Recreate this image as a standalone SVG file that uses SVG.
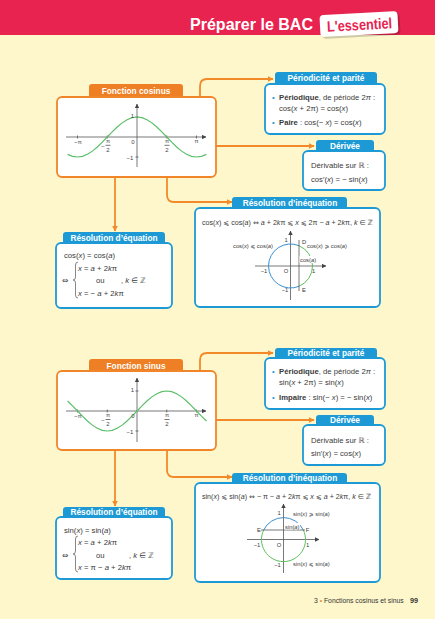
<svg xmlns="http://www.w3.org/2000/svg" width="435" height="619" viewBox="0 0 435 619">
<defs>
<style>
.f{font-family:"Liberation Sans","DejaVu Sans",sans-serif}
.tab{font-family:"Liberation Sans","DejaVu Sans",sans-serif;font-weight:bold;font-size:8.3px;fill:#fff;text-anchor:middle}
.bd{font-family:"Liberation Sans","DejaVu Sans",sans-serif;font-size:7.7px;fill:#3a3a3a}
.ineq{font-size:7.1px}
.dv{font-family:"DejaVu Sans",sans-serif}
.sm{font-family:"Liberation Sans","DejaVu Sans",sans-serif;font-size:5.8px;fill:#3a3a3a}
.ax{font-family:"Liberation Sans","DejaVu Sans",sans-serif;font-size:6px;fill:#444;text-anchor:middle}
.i{font-style:italic}
.b{font-weight:bold}
.ob{fill:#fff;stroke:#f0852a;stroke-width:1.8}
.bb{fill:#fff;stroke:#1d9ad6;stroke-width:1.8}
.ot{fill:#ef7f24}
.bt{fill:#1d9ad6}
.con{fill:none;stroke:#f28a2a;stroke-width:1.8}
.axis{fill:none;stroke:#555;stroke-width:0.8}
.crv{fill:none;stroke:#5cbf6a;stroke-width:1.2}
.cb{fill:none;stroke:#3a8fd0;stroke-width:1}
.cg{fill:none;stroke:#5cbf5a;stroke-width:1}
.br{fill:none;stroke:#555;stroke-width:0.7}
</style>
<marker id="ar" viewBox="0 0 6 6" refX="5.5" refY="3" markerWidth="6" markerHeight="6" markerUnits="userSpaceOnUse" orient="auto"><path d="M0,0 L6,3 L0,6 z" fill="#f28a2a"/></marker>
<marker id="ax" viewBox="0 0 6 6" refX="5.5" refY="3" markerWidth="4.5" markerHeight="4.5" markerUnits="userSpaceOnUse" orient="auto"><path d="M0,0 L6,3 L0,6 z" fill="#444"/></marker>
</defs>

<rect width="435" height="619" fill="#fdf7cb"/>
<rect width="435" height="35" fill="#e8234f"/>
<text class="f" x="313" y="30" font-size="16" font-weight="bold" fill="#fff" text-anchor="end" textLength="123" lengthAdjust="spacingAndGlyphs">Préparer le BAC</text>
<g transform="rotate(-3 360 25)">
<rect x="322" y="15" width="78" height="22" rx="4" fill="#000" opacity="0.18"/>
<rect x="320" y="13" width="78" height="22" rx="4" fill="#fff"/>
<text class="f" x="327" y="30" font-size="15" font-weight="bold" fill="#e8234f" textLength="65" lengthAdjust="spacingAndGlyphs">L'essentiel</text>
</g>

<g id="connectors">
<path class="con" d="M200,97 V86 Q200,79 207,79 H273" marker-end="url(#ar)"/>
<path class="con" d="M216,146 H314" marker-end="url(#ar)"/>
<path class="con" d="M167,177 V195 Q167,202 174,202 H232" marker-end="url(#ar)"/>
<path class="con" d="M115,177 V231" marker-end="url(#ar)"/>
<path class="con" d="M200,372 V360 Q200,353 207,353 H273" marker-end="url(#ar)"/>
<path class="con" d="M216,420 H314" marker-end="url(#ar)"/>
<path class="con" d="M167,450 V470 Q167,477 174,477 H232" marker-end="url(#ar)"/>
<path class="con" d="M115,450 V506" marker-end="url(#ar)"/>
</g>

<!-- Fonction cosinus -->
<g id="fonction-cosinus">
<path class="ot" d="M89,98 V87 Q89,84 92,84 H180 Q183,84 183,87 V98 z"/>
<rect class="ob" x="57" y="97" width="159" height="80" rx="5"/>
<text class="tab" x="136" y="94">Fonction cosinus</text>
<path class="axis" d="M66,137 H206" marker-end="url(#ax)"/>
<path class="axis" d="M137,167 V104" marker-end="url(#ax)"/>
<path class="axis" d="M77.5,135.5 V138.5 M107.25,135.5 V138.5 M166.75,135.5 V138.5 M196.5,135.5 V138.5 M135.5,117 H138.5 M135.5,157 H138.5"/>
<polyline class="crv" points="67.59,154.32 72.55,156.32 77.5,157 82.46,156.32 87.42,154.32 92.38,151.14 97.34,147 102.29,142.18 107.25,137 112.21,131.82 117.17,127 122.13,122.86 127.08,119.68 132.04,117.68 137,117 141.96,117.68 146.92,119.68 151.87,122.86 156.83,127 161.79,131.82 166.75,137 171.71,142.18 176.66,147 181.62,151.14 186.58,154.32 191.54,156.32 196.5,157 201.45,156.32 206.41,154.32"/>
<text class="ax" x="78" y="144">−π</text>
<text class="ax" x="103" y="147.5">−</text>
<text class="ax" x="108" y="143">π</text>
<path class="axis" d="M105.5,145.3 H110.5"/>
<text class="ax" x="108" y="151.5">2</text>
<text class="ax" x="133" y="143.5">0</text>
<text class="ax" x="167" y="143">π</text>
<path class="axis" d="M164.5,145.3 H169.5"/>
<text class="ax" x="167" y="151.5">2</text>
<text class="ax" x="196.5" y="143">π</text>
<text class="ax" x="132.5" y="117.5">1</text>
<text class="ax" x="130" y="159.5">−1</text>
</g>

<g id="periodicite-cos">
<path class="bt" d="M275,85 V75 Q275,72 278,72 H374 Q377,72 377,75 V85 z"/>
<rect class="bb" x="265" y="84" width="120" height="50" rx="5"/>
<text class="tab" x="326" y="81">Périodicité et parité</text>
<text class="bd" x="272" y="99.5" style="fill:#1d9ad6">•</text>
<text class="bd" x="279" y="99.5"><tspan class="b">Périodique</tspan>, de période 2<tspan class="i">π</tspan> :</text>
<text class="bd" x="279" y="110.5">cos(<tspan class="i">x</tspan> + 2π) = cos(<tspan class="i">x</tspan>)</text>
<text class="bd" x="272" y="124.5" style="fill:#1d9ad6">•</text>
<text class="bd" x="279" y="124.5"><tspan class="b">Paire</tspan> : cos(− <tspan class="i">x</tspan>) = cos(<tspan class="i">x</tspan>)</text>
</g>

<g id="derivee-cos">
<path class="bt" d="M316,152 V143 Q316,140 319,140 H371 Q374,140 374,143 V152 z"/>
<rect class="bb" x="303" y="151" width="82" height="39" rx="5"/>
<text class="tab" x="345" y="148.5">Dérivée</text>
<text class="bd" x="311" y="167.5">Dérivable sur ℝ :</text>
<text class="bd" x="311" y="181.5">cos′(<tspan class="i">x</tspan>) = − sin(<tspan class="i">x</tspan>)</text>
</g>

<g id="inequation-cos">
<path class="bt" d="M232,209 V200 Q232,197 235,197 H344 Q347,197 347,200 V209 z"/>
<rect class="bb" x="195" y="208" width="185" height="99" rx="5"/>
<text class="tab" x="290" y="205.5">Résolution d’inéquation</text>
<text class="bd ineq" x="202" y="224.5">cos(<tspan class="i">x</tspan>) ⩽ cos(<tspan class="i">a</tspan>) <tspan class="dv">⇔</tspan> <tspan class="i">a</tspan> + 2<tspan class="i">k</tspan>π ⩽ <tspan class="i">x</tspan> ⩽ 2π − <tspan class="i">a</tspan> + 2<tspan class="i">k</tspan>π, <tspan class="i">k</tspan> ∈ ℤ</text>
<path class="axis" d="M255,266 H326" marker-end="url(#ax)"/>
<path class="axis" d="M290.5,300 V231" marker-end="url(#ax)"/>
<path class="cg" d="M299,245.7 A22,22 0 0 1 299,286.3"/>
<path class="cb" d="M299,286.3 A22,22 0 1 1 299,245.7"/>
<path d="M299,240 V291" stroke="#555" stroke-width="0.8"/>
<rect x="299.5" y="256" width="16" height="7" fill="#fff"/>
<text class="sm" x="300" y="262">cos(<tspan class="i">a</tspan>)</text>
<text class="sm" x="286" y="241.5" text-anchor="middle">1</text>
<text class="sm" x="302" y="244">D</text>
<text class="sm" x="273" y="247.5" text-anchor="end">cos(<tspan class="i">x</tspan>) ⩽ cos(<tspan class="i">a</tspan>)</text>
<text class="sm" x="307" y="247.5">cos(<tspan class="i">x</tspan>) ⩾ cos(<tspan class="i">a</tspan>)</text>
<text class="sm" x="264" y="272.5" text-anchor="middle">−1</text>
<text class="sm" x="286" y="272.5" text-anchor="middle">O</text>
<text class="sm" x="313.5" y="272.5" text-anchor="middle">1</text>
<text class="sm" x="285" y="291.5" text-anchor="middle">−1</text>
<text class="sm" x="302" y="291.5">E</text>
</g>

<g id="equation-cos">
<path class="bt" d="M63,244 V235 Q63,232 66,232 H162 Q165,232 165,235 V244 z"/>
<rect class="bb" x="56" y="243" width="116" height="65" rx="5"/>
<text class="tab" x="114" y="240.8">Résolution d’équation</text>
<text class="bd" x="64" y="257.5">cos(<tspan class="i">x</tspan>) = cos(<tspan class="i">a</tspan>)</text>
<text class="bd" x="78" y="270.5"><tspan class="i">x</tspan> = <tspan class="i">a</tspan> + 2<tspan class="i">k</tspan>π</text>
<text class="bd dv" x="62" y="282.5">⇔</text>
<text class="bd" x="96" y="282.5">ou</text>
<text class="bd" x="121" y="282.5">, <tspan class="i">k</tspan> ∈ ℤ</text>
<text class="bd" x="78" y="295.5"><tspan class="i">x</tspan> = − <tspan class="i">a</tspan> + 2<tspan class="i">k</tspan>π</text>
<path class="br" d="M78,262 Q75.5,262 75.5,265 V277 Q75.5,280 73,280 Q75.5,280 75.5,283 V295 Q75.5,298 78,298"/>
</g>

<!-- Fonction sinus -->
<g id="fonction-sinus">
<path class="ot" d="M89,372 V362 Q89,359 92,359 H180 Q183,359 183,362 V372 z"/>
<rect class="ob" x="57" y="371" width="159" height="79" rx="5"/>
<text class="tab" x="136" y="368.5">Fonction sinus</text>
<path class="axis" d="M66,411 H206" marker-end="url(#ax)"/>
<path class="axis" d="M137,442 V378" marker-end="url(#ax)"/>
<path class="axis" d="M77.5,409.5 V412.5 M107.25,409.5 V412.5 M166.75,409.5 V412.5 M196.5,409.5 V412.5 M135.5,391 H138.5 M135.5,431 H138.5"/>
<polyline class="crv" points="67.59,401 72.55,405.82 77.5,411 82.46,416.18 87.42,421 92.38,425.14 97.34,428.32 102.29,430.32 107.25,431 112.21,430.32 117.17,428.32 122.13,425.14 127.08,421 132.04,416.18 137,411 141.96,405.82 146.92,401 151.87,396.86 156.83,393.68 161.79,391.68 166.75,391 171.71,391.68 176.66,393.68 181.62,396.86 186.58,401 191.54,405.82 196.5,411 201.45,416.18 206.41,421"/>
<text class="ax" x="78" y="418">−π</text>
<text class="ax" x="103" y="421.5">−</text>
<text class="ax" x="108" y="417">π</text>
<path class="axis" d="M105.5,419.5 H110.5"/>
<text class="ax" x="108" y="426">2</text>
<text class="ax" x="133" y="417.5">0</text>
<text class="ax" x="167" y="417">π</text>
<path class="axis" d="M164.5,419.5 H169.5"/>
<text class="ax" x="167" y="426">2</text>
<text class="ax" x="196.5" y="417">π</text>
<text class="ax" x="132.5" y="392">1</text>
<text class="ax" x="130" y="433.5">−1</text>
</g>

<g id="periodicite-sin">
<path class="bt" d="M275,359 V351 Q275,348 278,348 H374 Q377,348 377,351 V359 z"/>
<rect class="bb" x="265" y="358" width="120" height="51" rx="5"/>
<text class="tab" x="326" y="356.3">Périodicité et parité</text>
<text class="bd" x="272" y="374" style="fill:#1d9ad6">•</text>
<text class="bd" x="279" y="374"><tspan class="b">Périodique</tspan>, de période 2<tspan class="i">π</tspan> :</text>
<text class="bd" x="279" y="385">sin(<tspan class="i">x</tspan> + 2π) = sin(<tspan class="i">x</tspan>)</text>
<text class="bd" x="272" y="399.5" style="fill:#1d9ad6">•</text>
<text class="bd" x="279" y="399.5"><tspan class="b">Impaire</tspan> : sin(− <tspan class="i">x</tspan>) = − sin(<tspan class="i">x</tspan>)</text>
</g>

<g id="derivee-sin">
<path class="bt" d="M316,426 V418 Q316,415 319,415 H371 Q374,415 374,418 V426 z"/>
<rect class="bb" x="303" y="425" width="82" height="40" rx="5"/>
<text class="tab" x="345" y="423.3">Dérivée</text>
<text class="bd" x="311" y="442.5">Dérivable sur ℝ :</text>
<text class="bd" x="311" y="455.5">sin′(<tspan class="i">x</tspan>) = cos(<tspan class="i">x</tspan>)</text>
</g>

<g id="inequation-sin">
<path class="bt" d="M232,484 V476 Q232,473 235,473 H344 Q347,473 347,476 V484 z"/>
<rect class="bb" x="195" y="483" width="185" height="99" rx="5"/>
<text class="tab" x="290" y="481.3">Résolution d’inéquation</text>
<text class="bd ineq" x="202" y="498.5">sin(<tspan class="i">x</tspan>) ⩽ sin(<tspan class="i">a</tspan>) <tspan class="dv">⇔</tspan> − π − <tspan class="i">a</tspan> + 2<tspan class="i">k</tspan>π ⩽ <tspan class="i">x</tspan> ⩽ <tspan class="i">a</tspan> + 2<tspan class="i">k</tspan>π, <tspan class="i">k</tspan> ∈ ℤ</text>
<path class="axis" d="M247,539.5 H319" marker-end="url(#ax)"/>
<path class="axis" d="M283.5,573 V504" marker-end="url(#ax)"/>
<path class="cb" d="M263.7,530 A22,22 0 0 1 303.3,530"/>
<path class="cg" d="M303.3,530 A22,22 0 1 1 263.7,530"/>
<path d="M261,530 H305" stroke="#555" stroke-width="0.8"/>
<rect x="284.5" y="523" width="15.5" height="6.5" fill="#fff"/>
<text class="sm" x="285" y="528.5">sin(<tspan class="i">a</tspan>)</text>
<text class="sm" x="279" y="515" text-anchor="middle">1</text>
<text class="sm" x="293" y="516">sin(<tspan class="i">x</tspan>) ⩾ sin(<tspan class="i">a</tspan>)</text>
<text class="sm" x="259" y="532" text-anchor="middle">E</text>
<text class="sm" x="307.5" y="532" text-anchor="middle">F</text>
<text class="sm" x="257" y="547" text-anchor="middle">−1</text>
<text class="sm" x="279" y="547" text-anchor="middle">O</text>
<text class="sm" x="307.5" y="547" text-anchor="middle">1</text>
<text class="sm" x="277.5" y="567" text-anchor="middle">−1</text>
<text class="sm" x="293" y="565.5">sin(<tspan class="i">x</tspan>) ⩽ sin(<tspan class="i">a</tspan>)</text>
</g>

<g id="equation-sin">
<path class="bt" d="M63,518 V510 Q63,507 66,507 H162 Q165,507 165,510 V518 z"/>
<rect class="bb" x="56" y="517" width="116" height="62" rx="5"/>
<text class="tab" x="114" y="515.3">Résolution d’équation</text>
<text class="bd" x="64" y="532.5">sin(<tspan class="i">x</tspan>) = sin(<tspan class="i">a</tspan>)</text>
<text class="bd" x="78" y="544.5"><tspan class="i">x</tspan> = <tspan class="i">a</tspan> + 2<tspan class="i">k</tspan>π</text>
<text class="bd dv" x="62" y="557.5">⇔</text>
<text class="bd" x="96" y="557.5">ou</text>
<text class="bd" x="129" y="557.5">, <tspan class="i">k</tspan> ∈ ℤ</text>
<text class="bd" x="78" y="569.5"><tspan class="i">x</tspan> = π − <tspan class="i">a</tspan> + 2<tspan class="i">k</tspan>π</text>
<path class="br" d="M78,536 Q75.5,536 75.5,539 V551 Q75.5,554 73,554 Q75.5,554 75.5,557 V569 Q75.5,572 78,572"/>
</g>

<g id="footer">
<text class="f" x="314" y="602.5" font-size="6.8" fill="#333">3 <tspan fill="#f28a2a">•</tspan> Fonctions cosinus et sinus</text>
<text class="f" x="410" y="602.5" font-size="7.2" font-weight="bold" fill="#333">99</text>
</g>
</svg>
